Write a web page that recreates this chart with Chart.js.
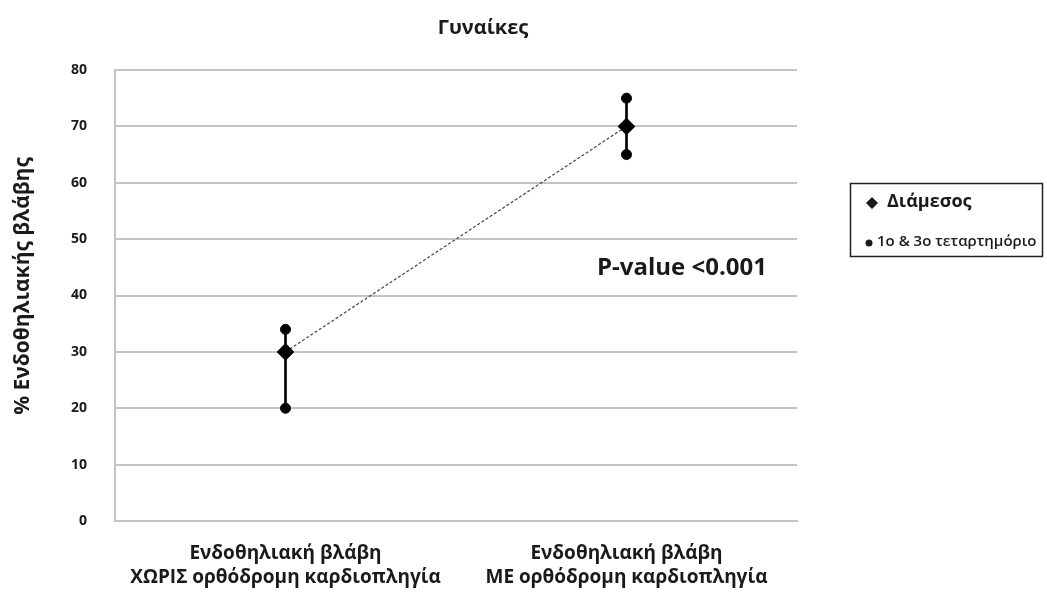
<!DOCTYPE html>
<html>
<head>
<meta charset="utf-8">
<script src="https://cdn.jsdelivr.net/npm/chart.js@4.4.0/dist/chart.umd.min.js"></script>
<style>
  html, body { margin: 0; padding: 0; background: #fff; }
  #wrap { width: 1047px; height: 599px; }
</style>
</head>
<body>
<div id="wrap"><canvas id="chart" width="1047" height="599"></canvas></div>
<script>
const categories = [
    ['Ενδοθηλιακή βλάβη', 'ΧΩΡΙΣ ορθόδρομη καρδιοπληγία'],
    ['Ενδοθηλιακή βλάβη', 'ΜΕ ορθόδρομη καρδιοπληγία']
];
const medians = [30, 70];
const q1 = [20, 65];
const q3 = [34, 75];
const yTicks = [0, 10, 20, 30, 40, 50, 60, 70, 80];

const FONT = "'Open Sans', 'Noto Sans', sans-serif";
const gridGray = '#c4c4c4';

const ranges = q1.map((v, i) => [v, q3[i]]);

const overlay = {
    id: 'overlay',
    afterDraw(chart) {
        const ctx = chart.ctx;
        ctx.save();
        ctx.fillStyle = '#1a1a1a';
        // title
        ctx.font = "bold 20px " + FONT;
        ctx.textAlign = 'center';
        ctx.textBaseline = 'middle';
        ctx.fillText('Γυναίκες', 483, 28);
        // y axis title
        ctx.save();
        ctx.translate(23, 286);
        ctx.rotate(-Math.PI / 2);
        ctx.font = "bold 21px " + FONT;
        ctx.fillText('% Ενδοθηλιακής βλάβης', 0, 0);
        ctx.restore();
        // p-value
        ctx.font = "bold 24px " + FONT;
        ctx.textAlign = 'left';
        ctx.fillText('P-value <0.001', 597, 268);
        // legend box
        ctx.strokeStyle = '#222';
        ctx.lineWidth = 1.5;
        ctx.strokeRect(850.5, 183.5, 192, 73);
        ctx.beginPath();
        const dx = 872, dy = 203;
        ctx.moveTo(dx, dy - 6); ctx.lineTo(dx + 6, dy); ctx.lineTo(dx, dy + 6); ctx.lineTo(dx - 6, dy);
        ctx.closePath();
        ctx.fill();
        ctx.font = "bold 18px " + FONT;
        ctx.fillText('Διάμεσος', 887, 202);
        ctx.beginPath();
        ctx.arc(869, 243, 3.5, 0, Math.PI * 2);
        ctx.fill();
        ctx.font = "600 15px " + FONT;
        ctx.fillText('1ο & 3ο τεταρτημόριο', 877, 242);
        ctx.restore();
    }
};

new Chart(document.getElementById('chart').getContext('2d'), {
    type: 'bar',
    data: {
        labels: categories,
        datasets: [
            {
                type: 'line',
                label: 'Διάμεσος',
                data: medians,
                borderColor: '#444',
                borderWidth: 1.2,
                borderDash: [3, 2],
                pointStyle: 'rectRot',
                pointRadius: 8,
                pointBackgroundColor: '#000',
                pointBorderColor: '#000',
                order: 0
            },
            {
                type: 'line',
                label: 'Q1',
                data: q1,
                showLine: false,
                pointRadius: 5,
                pointBackgroundColor: '#000',
                pointBorderColor: '#000',
                order: 1
            },
            {
                type: 'line',
                label: 'Q3',
                data: q3,
                showLine: false,
                pointRadius: 5,
                pointBackgroundColor: '#000',
                pointBorderColor: '#000',
                order: 1
            },
            {
                label: 'range',
                data: ranges,
                backgroundColor: '#000',
                barThickness: 2,
                borderSkipped: false,
                order: 2
            }
        ]
    },
    options: {
        responsive: false,
        animation: false,
        layout: { padding: { left: 0, top: 70, right: 250, bottom: 0 } },
        plugins: {
            legend: { display: false },
            tooltip: { enabled: false },
            title: { display: false }
        },
        scales: {
            x: {
                offset: true,
                grid: { display: false, drawTicks: false },
                border: { display: true, color: gridGray, width: 2 },
                ticks: {
                    color: '#1a1a1a',
                    font: { family: FONT, size: 19, weight: 'bold', lineHeight: 1.3 },
                    padding: 20,
                    maxRotation: 0,
                    autoSkip: false
                },
                afterFit(scale) { scale.height = 78; }
            },
            y: {
                min: 0,
                max: 80,
                afterBuildTicks(scale) { scale.ticks = yTicks.map(v => ({ value: v })); },
                grid: { color: gridGray, lineWidth: 2, drawTicks: false },
                border: { display: true, color: gridGray, width: 2 },
                ticks: {
                    color: '#1a1a1a',
                    font: { family: FONT, size: 14, weight: 'bold' },
                    padding: 28
                },
                afterFit(scale) { scale.width = 115; }
            }
        }
    },
    plugins: [overlay]
});
</script>
</body>
</html>
